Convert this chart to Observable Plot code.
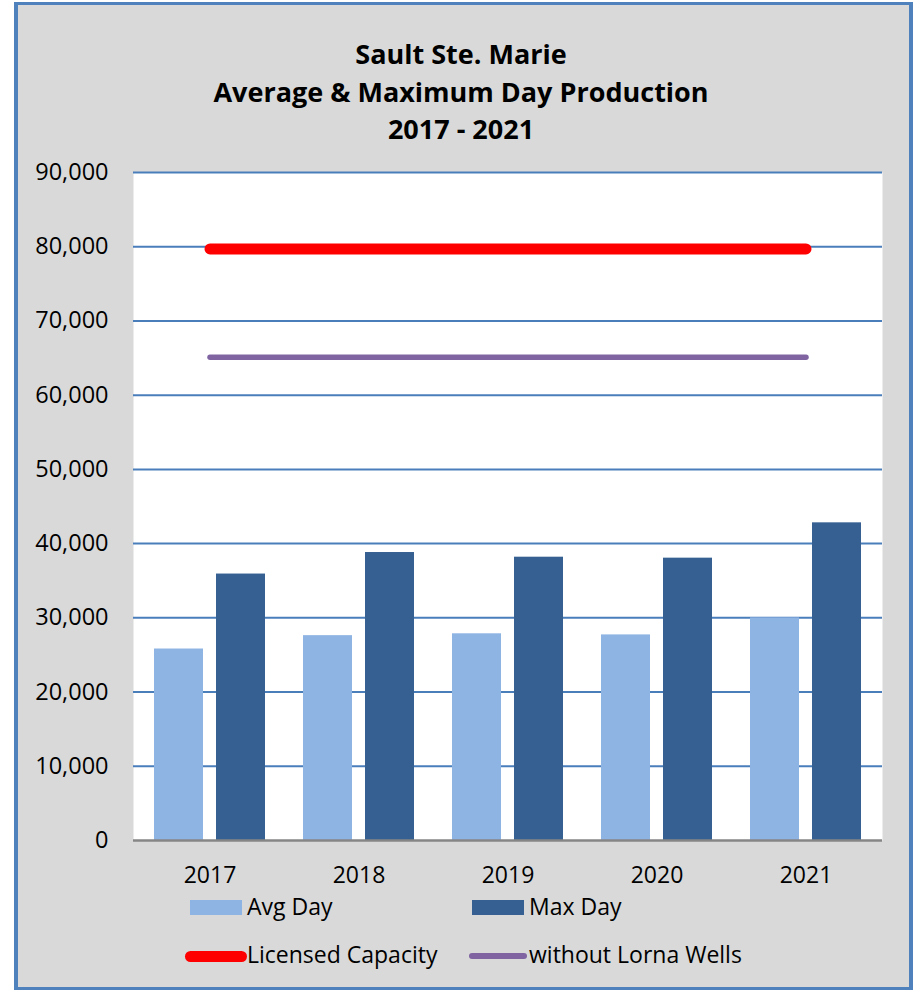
<!DOCTYPE html>
<html>
<head>
<meta charset="utf-8">
<script src="https://cdn.jsdelivr.net/npm/d3@7"></script>
<script src="https://cdn.jsdelivr.net/npm/@observablehq/plot@0.6"></script>
<style>
  html, body { margin: 0; padding: 0; background: #ffffff; }
  body { width: 913px; height: 990px; overflow: hidden; position: relative; font-family: "Open Sans", Lato, sans-serif; }
  #frame { position: absolute; left: 14px; top: 2px; width: 899px; height: 988px; box-sizing: border-box;
           border: 3px solid #4f81bd; border-left-width: 4px; border-right-width: 4px; background: #d9d9d9; }
  #title { position: absolute; left: 0; top: 35px; width: 922px; text-align: center; font-weight: 700;
           font-size: 27px; line-height: 37.5px; color: #000; }
  #chart { position: absolute; left: 0; top: 150px; }
  .lg { position: absolute; font-size: 23px; line-height: 21px; color: #000; white-space: nowrap; }
  .sw { position: absolute; }
</style>
</head>
<body>
<div id="frame"></div>
<div id="title"></div>
<div id="chart"></div>
<div id="legend"></div>
<script>
// ---- data ----
const titleLines = ["Sault Ste. Marie", "Average & Maximum Day Production", "2017 - 2021"];
const years = ["2017", "2018", "2019", "2020", "2021"];
const avgDay = [25800, 27600, 27850, 27700, 30000];
const maxDay = [35900, 38800, 38170, 38040, 42800];
const licensedCapacity = [79700, 79700, 79700, 79700, 79700];
const withoutLornaWells = [65100, 65100, 65100, 65100, 65100];
const yTicks = [0, 10000, 20000, 30000, 40000, 50000, 60000, 70000, 80000, 90000];
const seriesNames = ["Avg Day", "Max Day", "Licensed Capacity", "without Lorna Wells"];
const seriesColors = ["#8eb4e3", "#366092", "#ff0000", "#8064a2"];

document.getElementById("title").innerHTML = titleLines.map(t => `<div>${t.replace("&", "&amp;")}</div>`).join("");

const data = years.map((year, i) => ({
  year, avg: avgDay[i], max: maxDay[i], licensed: licensedCapacity[i], noLorna: withoutLornaWells[i]
}));

const chart = Plot.plot({
  width: 913,
  height: 740,
  marginLeft: 133,
  marginRight: 31,
  marginTop: 22,
  marginBottom: 50,
  style: { background: "transparent", fontFamily: "'Open Sans', Lato, sans-serif", fontSize: "23.5px", color: "#000", overflow: "visible" },
  x: { type: "band", domain: years, padding: 0, label: null },
  y: { domain: [0, 90000], label: null },
  marks: [
    Plot.frame({ fill: "white", stroke: "none" }),
    Plot.gridY(yTicks.filter(d => d > 0), { stroke: "#4a7ebb", strokeOpacity: 1, strokeWidth: 2 }),
    Plot.barY(data, { x: "year", y: "avg", fill: seriesColors[0], insetLeft: 19, insetRight: 81 }),
    Plot.barY(data, { x: "year", y: "max", fill: seriesColors[1], insetLeft: 81, insetRight: 19 }),
    Plot.ruleY([0], { stroke: "#868686", strokeWidth: 2.5 }),
    Plot.lineY(data, { x: "year", y: "licensed", stroke: seriesColors[2], strokeWidth: 11, strokeLinecap: "round" }),
    Plot.lineY(data, { x: "year", y: "noLorna", stroke: seriesColors[3], strokeWidth: 5.5, strokeLinecap: "round" }),
    Plot.axisY(yTicks, { tickSize: 0, tickPadding: 25, tickFormat: d3.format(","), fontSize: 23.5 }),
    Plot.axisX({ tickSize: 0, tickPadding: 26.5, fontSize: 23 })
  ]
});
document.getElementById("chart").appendChild(chart);

// ---- legend ----
const legend = document.getElementById("legend");
const legendLayout = [
  { kind: "rect", sx: 190, sy: 900, sw: 52, sh: 15, tx: 247, ty: 895.6 },
  { kind: "rect", sx: 472, sy: 900, sw: 52, sh: 15, tx: 529, ty: 895.6 },
  { kind: "line", sx: 185, sy: 950.5, sw: 62, sh: 11, tx: 247, ty: 943.9 },
  { kind: "line", sx: 469, sy: 953, sw: 58, sh: 6, tx: 529, ty: 943.9 }
];
seriesNames.forEach((name, i) => {
  const L = legendLayout[i];
  const sw = document.createElement("div");
  sw.className = "sw";
  sw.style.left = L.sx + "px"; sw.style.top = L.sy + "px";
  sw.style.width = L.sw + "px"; sw.style.height = L.sh + "px";
  sw.style.background = seriesColors[i];
  if (L.kind === "line") sw.style.borderRadius = (L.sh / 2) + "px";
  legend.appendChild(sw);
  const t = document.createElement("div");
  t.className = "lg";
  t.style.left = L.tx + "px"; t.style.top = L.ty + "px";
  t.textContent = name;
  legend.appendChild(t);
});
</script>
</body>
</html>
